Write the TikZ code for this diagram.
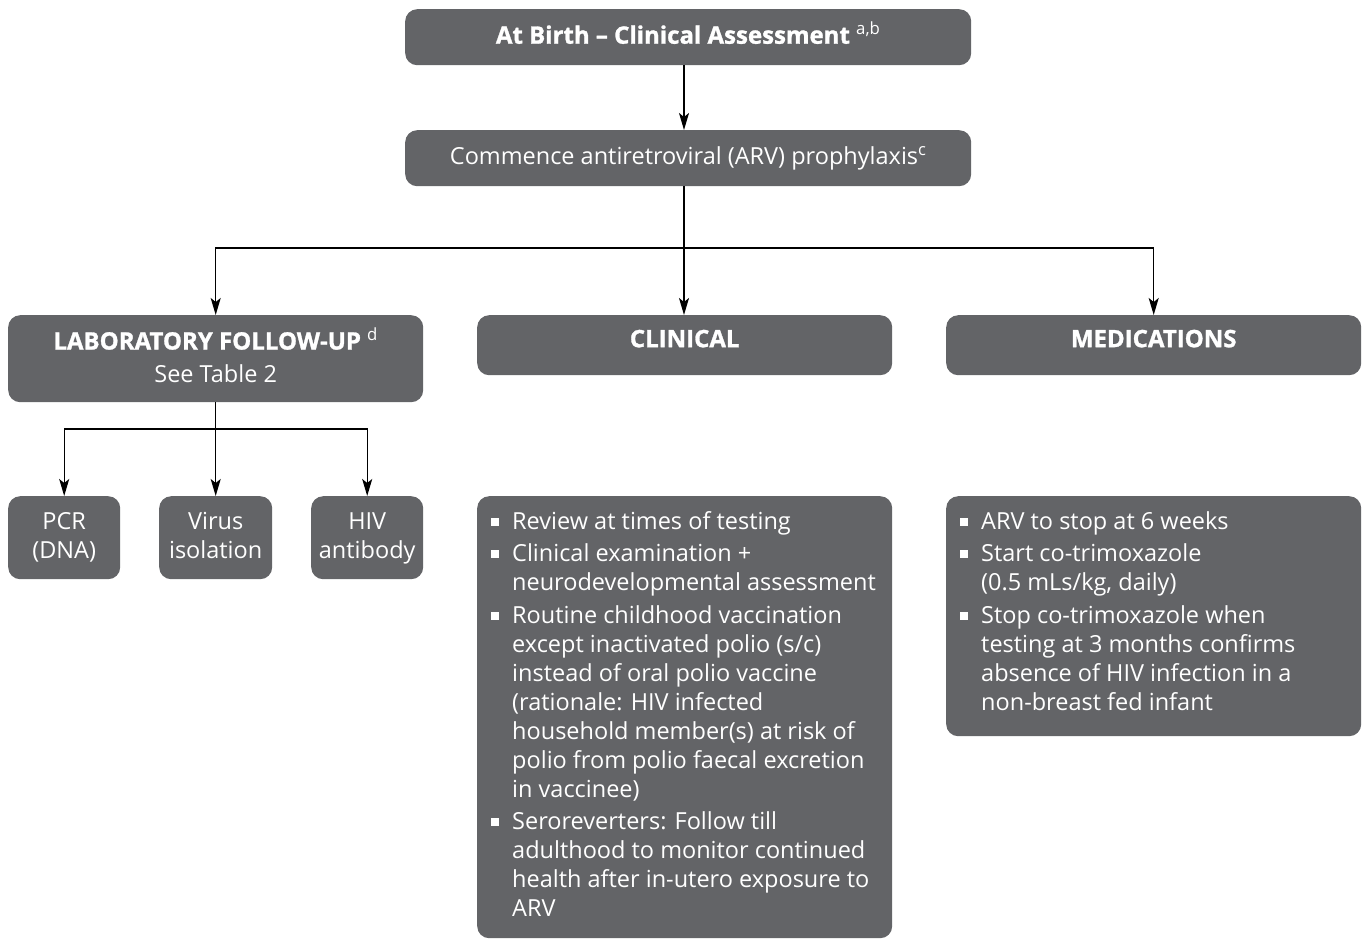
\documentclass[tikz,border=0pt]{standalone}
\usepackage{fontspec}
\setmainfont{Open Sans}
\newfontfamily\heavyfont{Open Sans}[Ligatures=TeX, BoldFeatures={FakeBold=1.2}]
\usetikzlibrary{arrows.meta}
\definecolor{boxgrey}{HTML}{636467}
% square bullet and hanging indent for the list boxes
\newcommand\sqbul{\makebox[21pt][l]{\raisebox{3.5pt}{\rule{8pt}{8pt}}}}
\newcommand\hang{\hspace*{21pt}}
\newcommand\headfont{\fontsize{24}{28}\heavyfont\bfseries}
\newcommand\bodyfont{\fontsize{23.5}{29}\selectfont}
\begin{document}
\begin{tikzpicture}[x=1pt,y=-1pt,
  box/.style={fill=boxgrey, rounded corners=12pt, text=white, inner sep=0pt, anchor=north west},
  conn/.style={line width=1.4pt},
  arr/.style={conn, -{Stealth[length=17pt,width=10pt,inset=4pt]}},
  head/.style={font=\headfont},
  body/.style={font=\bodyfont},
  listtxt/.style={body, text=white, align=left, anchor=north west, inner sep=0pt}]
\useasboundingbox (0,0) rectangle (1366,940);

% top of the flow
\node[box, head, minimum width=566pt, minimum height=56pt, text height=34.5pt, text depth=21.5pt] (birth) at (405,9)
  {At Birth – Clinical Assessment \textsuperscript{\normalfont a,b}};
\node[box, body, minimum width=566pt, minimum height=56pt] (arv) at (405,130)
  {Commence antiretroviral (ARV) prophylaxis\textsuperscript{c}};

% three branches
\node[box, minimum width=415pt, minimum height=87pt, align=center] (lab) at (8,315)
  {{\headfont LABORATORY FOLLOW-UP \textsuperscript{\normalfont d}}\\[14pt]
   {\bodyfont See Table 2}\rule[-7pt]{0pt}{7pt}};
\node[box, head, minimum width=415pt, text height=32pt, text depth=28pt] (clin) at (477,315) {CLINICAL};
\node[box, head, minimum width=415pt, text height=32pt, text depth=28pt] (meds) at (946,315) {MEDICATIONS};

% laboratory tests
\node[box, body, minimum width=112pt, minimum height=83pt, align=center] (pcr) at (8,496) {\strut PCR\\\strut (DNA)};
\node[box, body, minimum width=113pt, minimum height=83pt, align=center] (virus) at (159,496) {\strut Virus\\\strut isolation};
\node[box, body, minimum width=112pt, minimum height=83pt, align=center] (hiv) at (311,496) {\strut HIV\\\strut antibody};

% detail boxes
\node[box, minimum width=415pt, minimum height=442pt] (clinbox) at (477,496) {};
\node[box, minimum width=415pt, minimum height=240pt] (medsbox) at (946,496) {};

\node[listtxt] (clinlist) at (491,511) {%
\sqbul Review at times of testing\\[3.5pt]
\sqbul Clinical examination +\\
\hang neurodevelopmental assessment\\[3.5pt]
\sqbul Routine childhood vaccination\\
\hang except inactivated polio (s/c)\\
\hang instead of oral polio vaccine\\
\hang (rationale: HIV infected\\
\hang household member(s) at risk of\\
\hang polio from polio faecal excretion\\
\hang in vaccinee)\\[3.5pt]
\sqbul Seroreverters: Follow till\\
\hang adulthood to monitor continued\\
\hang health after in-utero exposure to\\
\hang ARV};

\node[listtxt] (medslist) at (960,511) {%
\sqbul ARV to stop at 6 weeks\\[3.5pt]
\sqbul Start co-trimoxazole\\
\hang (0.5 mLs/kg, daily)\\[3.5pt]
\sqbul Stop co-trimoxazole when\\
\hang testing at 3 months confirms\\
\hang absence of HIV infection in a\\
\hang non-breast fed infant};

% connectors
\coordinate (split) at (684,248);
\coordinate (labsplit) at (215,429);
\draw[arr] (birth.south -| split) -- (arv.north -| split);
\draw[arr] (arv.south -| split) -- (clin.north -| split);
\draw[arr] (split) -| (lab.north);
\draw[arr] (split) -| (meds.north);
\draw[arr] (lab.south) -- (virus.north -| lab.south);
\draw[arr] (labsplit) -| (pcr.north);
\draw[arr] (labsplit) -| (hiv.north);
\end{tikzpicture}
\end{document}
